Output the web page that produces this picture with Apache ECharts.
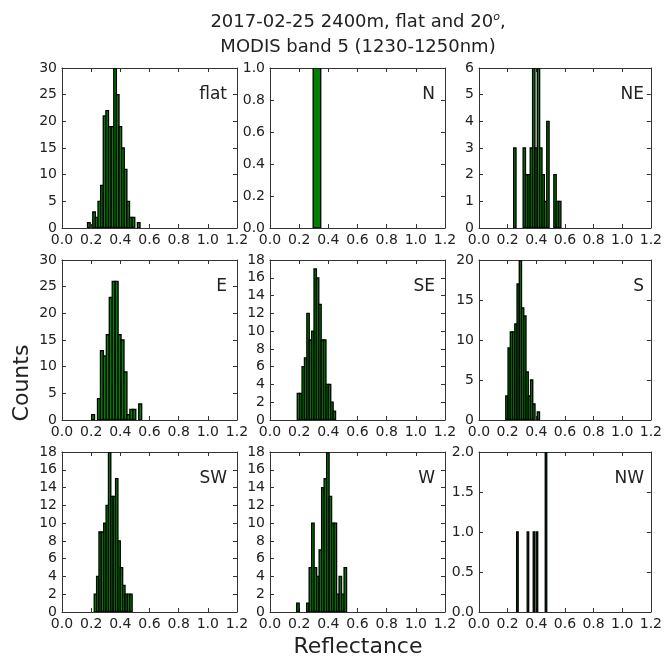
<!DOCTYPE html>
<html>
<head>
<meta charset="utf-8">
<script src="https://cdn.jsdelivr.net/npm/echarts@6/dist/echarts.min.js"></script>
<style>
  html, body { margin: 0; padding: 0; background: #fff; }
  #chart { width: 665px; height: 657px; }
</style>
</head>
<body>
<div id="chart"></div>
<script>
// Panel names (aspect classes) in reading order, 3 x 3
const panelNames = ['flat', 'N', 'NE', 'E', 'SE', 'S', 'SW', 'W', 'NW'];

// Histogram bins: left edge of first bin and bin width (reflectance units)
const binStart = [0.175, 0.296, 0.242, 0.203, 0.187, 0.187, 0.221, 0.183, 0.263];
const binWidth = [0.018, 0.052, 0.0165, 0.0202, 0.0164, 0.0157, 0.01625, 0.0171, 0.0105];

// Counts per bin for every panel
const countsFlat = [1, 0, 3, 2, 5, 8, 21, 22, 19, 19, 30, 25, 19, 15, 11, 5, 2, 2, 0, 1];
const countsN    = [1];
const countsNE   = [3, 0, 0, 0, 3, 2, 2, 3, 6, 3, 6, 3, 2, 1, 4, 0, 0, 2, 1, 1];
const countsE    = [1, 0, 4, 13, 12, 16, 23, 26, 26, 16, 15, 9, 1, 2, 2, 0, 3];
const countsSE   = [3, 3, 6, 7, 12, 9, 10, 17, 16, 13, 9, 9, 4, 4, 2, 1];
const countsS    = [3, 9, 11, 11, 12, 17, 20, 14, 13, 6, 3, 5, 2, 0, 1];
const countsSW   = [2, 4, 9, 9, 10, 12, 18, 13, 13, 15, 8, 5, 3, 2, 2, 2];
const countsW    = [1, 0, 0, 0, 1, 5, 10, 5, 4, 7, 14, 15, 18, 13, 10, 10, 2, 4, 2, 5];
const countsNW   = [1, 0, 0, 0, 0, 0, 0, 1, 0, 0, 0, 1, 0, 1, 0, 0, 0, 0, 0, 2];
const panelCounts = [countsFlat, countsN, countsNE, countsE, countsSE, countsS, countsSW, countsW, countsNW];

// Axis ranges
const xMin = 0, xMax = 1.2, xStep = 0.2;
const yMax  = [30, 1, 6, 30, 18, 20, 18, 18, 2];
const yStep = [5, 0.2, 1, 5, 2, 5, 2, 2, 0.5];
const yDecimals = [0, 1, 0, 0, 0, 0, 0, 0, 1];

// Text
const titleLine1 = '2017-02-25 2400m, flat and 20{sup|o},';
const titleLine2 = 'MODIS band 5 (1230-1250nm)';
const xLabel = 'Reflectance';
const yLabel = 'Counts';

// Layout of the 3 x 3 panel grid (pixels)
const colLeft = [62, 270, 479];
const rowTop = [68, 260, 452];
const panelW = 175, panelH = 160;

const FONT = 'DejaVu Sans';
const lineColor = '#333';
const textColor = '#222';

const grids = [], xAxes = [], yAxes = [], series = [], graphics = [];

panelNames.forEach(function (name, i) {
  const r = Math.floor(i / 3), c = i % 3;
  grids.push({ left: colLeft[c], top: rowTop[r], width: panelW, height: panelH,
               show: false, containLabel: false });

  const axisLine = { show: true, onZero: false, lineStyle: { color: lineColor, width: 1 } };
  const tick = { show: true, inside: true, length: 4, lineStyle: { color: lineColor, width: 1 } };

  // bottom axis with labels, top axis mirrors the ticks
  xAxes.push({
    type: 'value', gridIndex: i, position: 'bottom', min: xMin, max: xMax, interval: xStep,
    axisLine: axisLine, axisTick: tick, splitLine: { show: false },
    axisLabel: { show: true, margin: 5, color: textColor, fontFamily: FONT, fontSize: 14,
                 showMinLabel: true, showMaxLabel: true,
                 formatter: function (v) { return v.toFixed(1); } }
  });
  xAxes.push({
    type: 'value', gridIndex: i, position: 'top', min: xMin, max: xMax, interval: xStep,
    axisLine: axisLine, axisTick: tick, splitLine: { show: false }, axisLabel: { show: false }
  });

  // left axis with labels, right axis mirrors the ticks
  const dec = yDecimals[i];
  yAxes.push({
    type: 'value', gridIndex: i, position: 'left', min: 0, max: yMax[i], interval: yStep[i],
    axisLine: axisLine, axisTick: tick, splitLine: { show: false },
    axisLabel: { show: true, margin: 5, color: textColor, fontFamily: FONT, fontSize: 14,
                 showMinLabel: true, showMaxLabel: true,
                 formatter: function (v) { return v.toFixed(dec); } }
  });
  yAxes.push({
    type: 'value', gridIndex: i, position: 'right', min: 0, max: yMax[i], interval: yStep[i],
    axisLine: axisLine, axisTick: tick, splitLine: { show: false }, axisLabel: { show: false }
  });

  // histogram bars: [left edge, right edge, count]
  const data = [];
  panelCounts[i].forEach(function (n, k) {
    if (n > 0) {
      const x0 = binStart[i] + k * binWidth[i];
      data.push([x0, x0 + binWidth[i], n]);
    }
  });
  series.push({
    type: 'custom', xAxisIndex: 2 * i, yAxisIndex: 2 * i, clip: true,
    encode: { x: [0, 1], y: 2 },
    data: data,
    renderItem: function (params, api) {
      const p0 = api.coord([api.value(0), 0]);
      const p1 = api.coord([api.value(1), api.value(2)]);
      return {
        type: 'rect',
        shape: { x: p0[0], y: p1[1], width: p1[0] - p0[0], height: p0[1] - p1[1] },
        style: { fill: '#008000', stroke: '#000', lineWidth: 1.3 }
      };
    }
  });

  // aspect name in the upper right corner of each panel
  graphics.push({
    type: 'text', x: colLeft[c] + panelW - 10, y: rowTop[r] + 27,
    style: { text: name, fill: textColor, font: '17px "' + FONT + '"',
             textAlign: 'right', textVerticalAlign: 'middle' }
  });
});

// figure title and shared axis labels
graphics.push({
  type: 'text', x: 358, y: 22,
  style: { text: titleLine1, fill: textColor, font: '18px "' + FONT + '"',
           textAlign: 'center', textVerticalAlign: 'middle',
           rich: { sup: { fontSize: 11, fontStyle: 'italic', fontFamily: FONT,
                          verticalAlign: 'top', padding: [0, 0, 10, 0] } } }
});
graphics.push({
  type: 'text', x: 358, y: 47,
  style: { text: titleLine2, fill: textColor, font: '18px "' + FONT + '"',
           textAlign: 'center', textVerticalAlign: 'middle' }
});
graphics.push({
  type: 'text', x: 358, y: 647,
  style: { text: xLabel, fill: textColor, font: '22px "' + FONT + '"',
           textAlign: 'center', textVerticalAlign: 'middle' }
});
graphics.push({
  type: 'text', x: 22, y: 383, rotation: Math.PI / 2,
  style: { text: yLabel, fill: textColor, font: '22px "' + FONT + '"',
           textAlign: 'center', textVerticalAlign: 'middle' }
});

const chart = echarts.init(document.getElementById('chart'), null, { renderer: 'canvas' });
chart.setOption({
  animation: false,
  backgroundColor: '#fff',
  grid: grids,
  xAxis: xAxes,
  yAxis: yAxes,
  series: series,
  graphic: graphics
});
</script>
</body>
</html>
